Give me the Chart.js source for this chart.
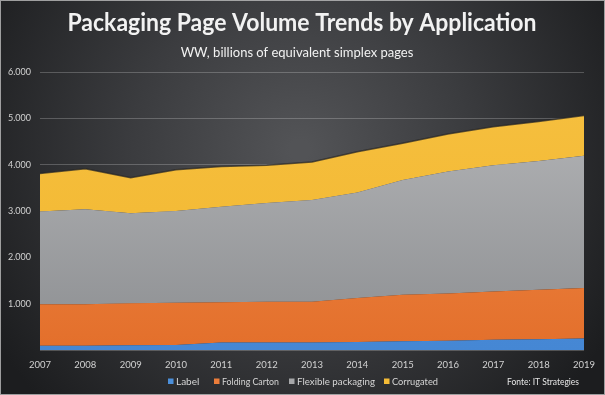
<!DOCTYPE html>
<html>
<head>
<meta charset="utf-8">
<script src="https://cdn.jsdelivr.net/npm/chart.js@4/dist/chart.umd.min.js"></script>
<style>
  html, body { margin: 0; padding: 0; background: #1e1f21; }
  #wrap { width: 605px; height: 395px; position: relative; }
</style>
</head>
<body>
<div id="wrap"><canvas id="areaChart" width="605" height="395"></canvas></div>
<script>
// years on the x axis
const years = ['2007','2008','2009','2010','2011','2012','2013','2014','2015','2016','2017','2018','2019'];

// billions of equivalent simplex pages
const labelPages      = [90, 90, 100, 110, 160, 160, 160, 170, 190, 200, 220, 230, 250];
const foldingCarton   = [900, 900, 910, 910, 870, 880, 880, 950, 1000, 1020, 1040, 1070, 1090];
const flexiblePack    = [2000, 2050, 1940, 1980, 2060, 2130, 2200, 2280, 2480, 2630, 2730, 2780, 2850];
const corrugated      = [820, 870, 770, 890, 870, 820, 820, 880, 790, 810, 830, 850, 870];

const seriesNames = ['Label', 'Folding Carton', 'Flexible packaging', 'Corrugated'];
const yTicks = [0, 1000, 2000, 3000, 4000, 5000, 6000];

const FONT = 'Lato, "Open Sans", "Noto Sans", sans-serif';

function vGradient(top, bottom)
{
  return (context) =>
  {
    const area = context.chart.chartArea;
    if (!area) return top;
    const g = context.chart.ctx.createLinearGradient(0, area.top, 0, area.bottom);
    g.addColorStop(0, top);
    g.addColorStop(1, bottom);
    return g;
  };
}

const backdrop = {
  id: 'backdrop',
  beforeDraw(chart)
  {
    const c = chart.ctx;
    const w = chart.width, h = chart.height;
    c.save();
    const g = c.createRadialGradient(300, 150, 10, 300, 150, 360);
    g.addColorStop(0, '#525356');
    g.addColorStop(0.45, '#3b3c3f');
    g.addColorStop(1, '#1c1d1f');
    c.fillStyle = g;
    c.fillRect(0, 0, w, h);
    c.strokeStyle = 'rgba(190,190,190,0.8)';
    c.lineWidth = 1;
    c.strokeRect(0.5, 0.5, w - 1, h - 1);
    c.restore();
  },
  afterDraw(chart)
  {
    const c = chart.ctx;
    c.save();
    c.textAlign = 'center';
    c.textBaseline = 'alphabetic';
    c.fillStyle = '#f2f2f2';
    c.font = 'bold 24px ' + FONT;
    c.fillText('Packaging Page Volume Trends by Application', 302, 31, 469);
    c.font = '13px ' + FONT;
    c.fillText('WW, billions of equivalent simplex pages', 297, 57, 276);

    // legend, placed like the original
    const legendX = [[168, 176, 26], [214, 222, 57], [289, 297, 78], [384, 392, 46]];
    const legendCol = ['#4b8fda', '#ec7d3a', '#a6a7a9', '#f4bb36'];
    c.textAlign = 'left';
    c.textBaseline = 'middle';
    c.font = '10px ' + FONT;
    seriesNames.forEach((name, i) =>
    {
      c.fillStyle = legendCol[i];
      c.fillRect(legendX[i][0], 378.5, 5.5, 5.5);
      c.fillStyle = '#d6d6d6';
      c.fillText(name, legendX[i][1], 381.5, legendX[i][2]);
    });
    c.fillStyle = '#e6e6e6';
    c.fillText('Fonte: IT Strategies', 507, 381.5, 72);
    c.restore();
  }
};

const ctx = document.getElementById('areaChart').getContext('2d');
new Chart(ctx,
{
  type: 'line',
  data:
  {
    labels: years,
    datasets:
    [
      { label: seriesNames[0], data: labelPages, fill: 'origin',
        backgroundColor: vGradient('#5596de', '#4587d4'), borderWidth: 0 },
      { label: seriesNames[1], data: foldingCarton, fill: '-1',
        backgroundColor: vGradient('#f39150', '#e36f2b'), borderWidth: 0 },
      { label: seriesNames[2], data: flexiblePack, fill: '-1',
        backgroundColor: vGradient('#b8b9bb', '#8c8e91'), borderWidth: 0 },
      { label: seriesNames[3], data: corrugated, fill: '-1',
        backgroundColor: vGradient('#f6c040', '#f2b62e'),
        borderColor: 'rgba(35,35,37,0.7)', borderWidth: 1.5 }
    ]
  },
  plugins: [backdrop],
  options:
  {
    responsive: false,
    animation: false,
    elements: { point: { radius: 0, hoverRadius: 0 }, line: { tension: 0 } },
    layout: { padding: { top: 72, right: 21, bottom: 15, left: 0 } },
    plugins: { legend: { display: false }, title: { display: false }, tooltip: { enabled: false } },
    scales:
    {
      x:
      {
        offset: false,
        grid: { display: false, drawTicks: false },
        border: { display: false },
        ticks: { color: '#d2d2d2', font: { family: FONT, size: 9.5 }, padding: 9, maxRotation: 0, autoSkip: false },
        afterFit: (scale) => { scale.height = 30; }
      },
      y:
      {
        stacked: true,
        min: 0,
        max: 6000,
        afterBuildTicks: (scale) => { scale.ticks = yTicks.map(v => ({ value: v })); },
        grid: { color: 'rgba(255,255,255,0.22)', lineWidth: 1, drawTicks: false },
        border: { display: false },
        ticks: {
          color: '#d2d2d2',
          font: { family: FONT, size: 9 },
          padding: 9,
          callback: (v) => v === 0 ? '' : (v / 1000).toFixed(3)
        },
        afterFit: (scale) => { scale.width = 40; }
      }
    }
  }
});
</script>
</body>
</html>
